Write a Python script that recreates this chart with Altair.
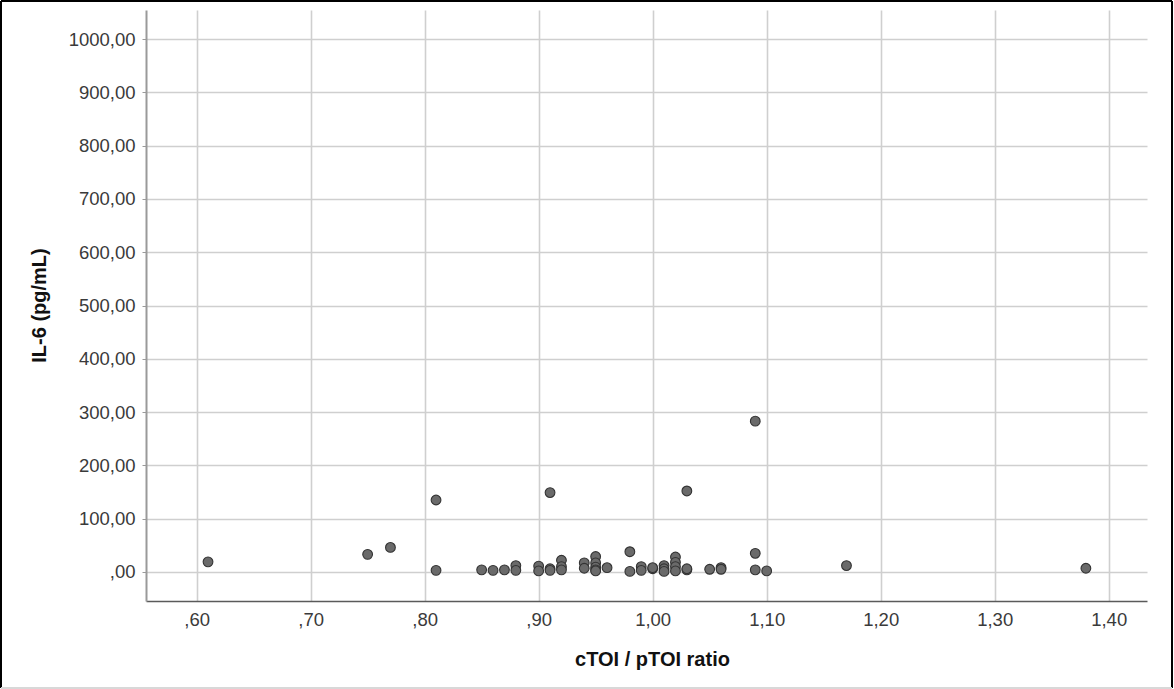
import altair as alt
import pandas as pd

# cTOI / pTOI ratio and IL-6 concentration for each patient
ratio = [
    0.61, 0.75, 0.77, 0.81, 0.81, 0.85, 0.86, 0.87, 0.88, 0.88,
    0.90, 0.90, 0.91, 0.91, 0.91, 0.92, 0.92, 0.92, 0.94, 0.94,
    0.95, 0.95, 0.95, 0.95, 0.95, 0.96, 0.98, 0.98, 0.99, 0.99,
    1.00, 1.00, 1.01, 1.01, 1.01, 1.02, 1.02, 1.02, 1.02, 1.03,
    1.03, 1.03, 1.05, 1.06, 1.06, 1.09, 1.09, 1.09, 1.10, 1.17,
    1.38,
]
il6 = [
    19, 33, 46, 135, 3, 4, 3, 4, 12, 3,
    11, 2, 149, 6, 3, 22, 10, 4, 17, 7,
    29, 17, 9, 4, 2, 8, 38, 1, 10, 3,
    6, 8, 12, 6, 1, 28, 18, 10, 2, 152,
    4, 6, 5, 8, 5, 283, 35, 4, 2, 12,
    7,
]

x_ticks = [0.6, 0.7, 0.8, 0.9, 1.0, 1.1, 1.2, 1.3, 1.4]
y_ticks = [0, 100, 200, 300, 400, 500, 600, 700, 800, 900, 1000]

df = pd.DataFrame({"ratio": ratio, "il6": il6})

W, H = 1001, 591
PAD_L, PAD_T = 146, 10
FONT = "Liberation Sans"

x_label = ("datum.value < 1 ? replace(format(datum.value, '.2f'), '0.', ',') "
           ": replace(format(datum.value, '.2f'), '.', ',')")
y_label = ("datum.value == 0 ? ',00' : replace(format(datum.value, '.2f'), '.', ',')")

points = alt.Chart(df).mark_point(
    shape="circle", filled=True, size=95, fill="#6a6a6a", stroke="#333333",
    strokeWidth=1.1, opacity=1,
).encode(
    x=alt.X("ratio:Q", scale=alt.Scale(domain=[0.5556, 1.4336], nice=False, zero=False),
            axis=alt.Axis(values=x_ticks, labelExpr=x_label, title="cTOI / pTOI ratio",
                          grid=True, gridColor="#cfcfcf", gridWidth=1.6,
                          domainColor="#5a5a5a", domainWidth=1.6, ticks=False,
                          labelPadding=9, labelFontSize=18.5, labelColor="#3a3a3a",
                          labelFont=FONT,
                          titleFont=FONT, titleFontSize=20,
                          titleFontWeight="bold", titleColor="#111111",
                          titleX=506, titleY=58, titleBaseline="middle")),
    y=alt.Y("il6:Q", scale=alt.Scale(domain=[-54.5, 1054.5], nice=False, zero=False),
            axis=alt.Axis(values=y_ticks, labelExpr=y_label, title="IL-6 (pg/mL)",
                          grid=True, gridColor="#cfcfcf", gridWidth=1.6,
                          domainColor="#9a9a9a", domainWidth=2, ticks=True,
                          tickSize=4, tickColor="#9a9a9a", labelPadding=7,
                          labelFontSize=18.5, labelColor="#3a3a3a",
                          labelFont=FONT,
                          titleFont=FONT, titleFontSize=20,
                          titleFontWeight="bold", titleColor="#111111",
                          titleX=-107, titleY=295, titleBaseline="middle",
                          titleAlign="center")),
)

# outer frame around the whole figure: dark on three sides, light at the bottom
def edge(x, x2, y, y2, color):
    return alt.Chart(df).mark_rule(color=color, strokeWidth=2, clip=False).encode(
        x=alt.value(x), x2=alt.value(x2), y=alt.value(y), y2=alt.value(y2)
    )

left, right = -PAD_L + 1, 1172 - PAD_L
top, bottom = -PAD_T + 1, 688 - PAD_T
frame = [
    edge(left, right, top, top, "#000000"),
    edge(left, left, top, bottom, "#000000"),
    edge(right, right, top, bottom, "#000000"),
    edge(left, right, bottom, bottom, "#d8d8d8"),
]

chart = alt.layer(points, *frame).properties(
    width=W, height=H,
    autosize=alt.AutoSizeParams(type="none"),
    padding={"left": PAD_L, "top": PAD_T, "right": 1174 - PAD_L - W, "bottom": 689 - PAD_T - H},
    background="white",
).configure_view(stroke=None)

chart.save("out.html", embed_options={"renderer": "svg", "actions": False})
